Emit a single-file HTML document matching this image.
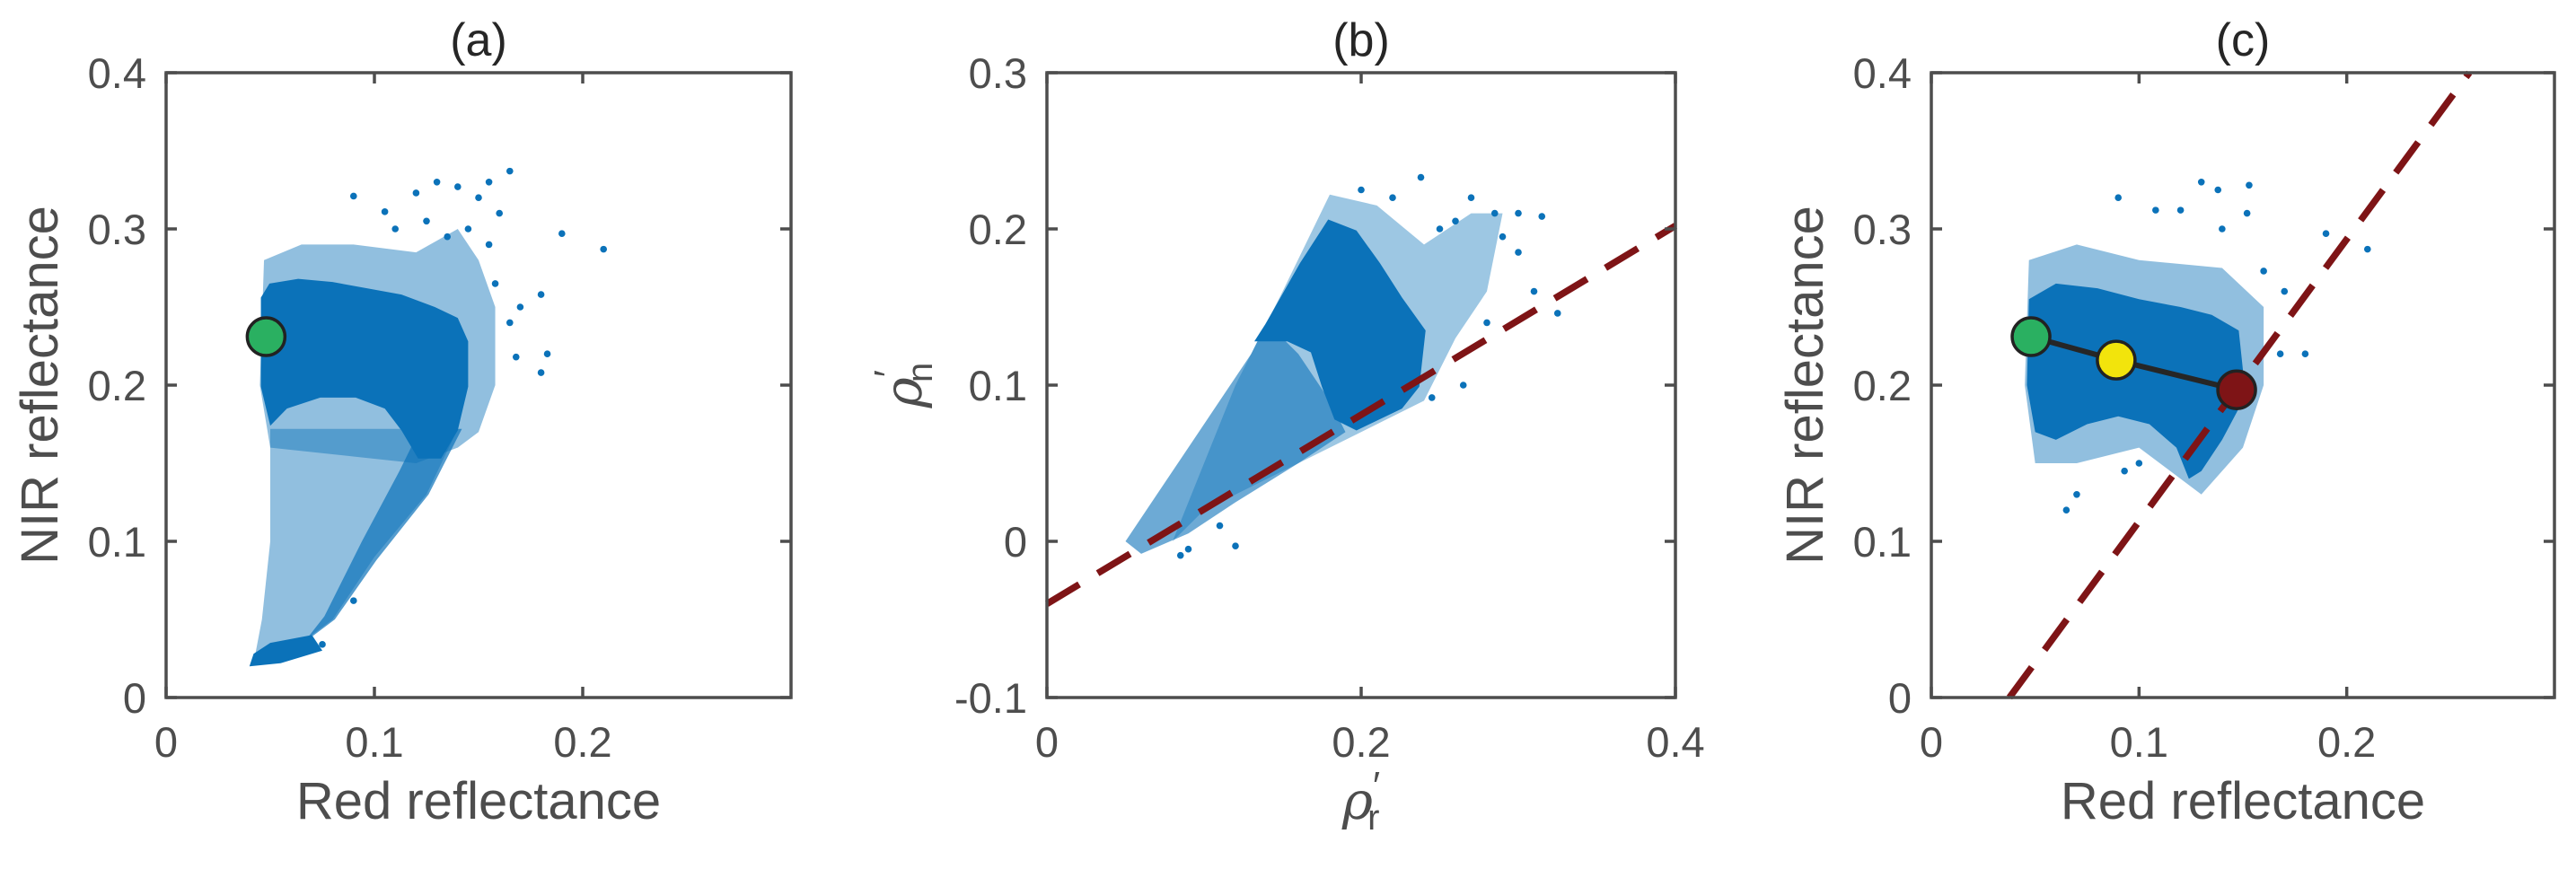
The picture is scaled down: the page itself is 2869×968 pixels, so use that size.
<!DOCTYPE html>
<html><head><meta charset="utf-8"><style>
html,body{margin:0;padding:0;background:#fff}
svg{display:block}
text{font-family:"Liberation Sans",sans-serif;fill:#4d4d4d}
</style></head><body>
<svg id="fig" width="2869" height="968" viewBox="0 0 2869 968" xmlns="http://www.w3.org/2000/svg"></svg>
<script>
// ---------- data ----------
const aXTicks=[0,0.1,0.2], aYTicks=[0,0.1,0.2,0.3,0.4];
const bXTicks=[0,0.2,0.4], bYTicks=[-0.1,0,0.1,0.2,0.3];
const aCore=[[.0455,.256],[.0496,.265],[.0634,.268],[.0799,.266],[.0964,.262],[.113,.258],[.129,.25],[.140,.243],[.145,.228],[.145,.199],[.140,.171],[.132,.153],[.121,.153],[.113,.171],[.105,.185],[.091,.192],[.074,.192],[.058,.185],[.050,.174],[.0455,.199]];
const aHalo=[[.047,.28],[.065,.29],[.09,.29],[.12,.285],[.14,.30],[.15,.28],[.158,.25],[.158,.2],[.15,.17],[.14,.16],[.12,.15],[.05,.16],[.045,.2]];
const aLower=[[.050,.172],[.140,.172],[.125,.13],[.10,.09],[.08,.05],[.06,.03],[.042,.022],[.046,.05],[.05,.1]];
const aBand=[[.142,.172],[.126,.13],[.101,.088],[.081,.05],[.066,.035],[.076,.052],[.094,.1],[.112,.145],[.122,.172]];
const aTail=[[.040,.020],[.055,.022],[.075,.030],[.070,.040],[.050,.035],[.042,.028]];
const aOut=[[.165,.337],[.155,.33],[.19,.297],[.21,.287],[.18,.258],[.17,.25],[.183,.22],[.18,.208],[.168,.218],[.165,.24],[.15,.32],[.16,.31],[.09,.321],[.105,.311],[.13,.33],[.14,.327],[.12,.323],[.145,.3],[.155,.29],[.11,.3],[.125,.305],[.135,.295],[.158,.265],[.075,.034],[.09,.062]];
const aMarkX=[0.048], aMarkY=[0.231];

const bCore=[[.139,.139],[.161,.178],[.179,.206],[.197,.199],[.212,.178],[.226,.156],[.241,.135],[.237,.099],[.226,.085],[.197,.071],[.183,.078],[.175,.099],[.168,.121],[.153,.128],[.132,.128]];
const bMid=[[.14,.14],[.13,.12],[.11,.09],[.09,.06],[.07,.03],[.05,0],[.06,-.008],[.09,.005],[.12,.025],[.16,.05],[.19,.07],[.18,.09],[.16,.12]];
const bHalo=[[.18,.222],[.21,.215],[.24,.19],[.27,.21],[.29,.21],[.28,.16],[.26,.13],[.24,.09],[.2,.07],[.15,.045],[.1,.02],[.08,.0],[.1,.05],[.12,.1],[.15,.16]];
const bOut=[[.238,.233],[.27,.22],[.285,.21],[.3,.21],[.315,.208],[.26,.205],[.31,.16],[.325,.146],[.28,.14],[.265,.1],[.245,.092],[.25,.2],[.22,.22],[.2,.225],[.11,.01],[.12,-.003],[.085,-.009],[.09,-.005],[.29,.195],[.3,.185]];
const bLineX=[0,0.4], bLineY=[-0.04,0.202];

const cCore=[[.047,.255],[.06,.265],[.08,.262],[.10,.255],[.12,.25],[.135,.245],[.148,.235],[.150,.21],[.148,.185],[.140,.165],[.130,.145],[.124,.140],[.118,.160],[.105,.175],[.09,.18],[.075,.175],[.06,.165],[.05,.17],[.046,.2]];
const cHalo=[[.047,.28],[.07,.29],[.1,.28],[.14,.275],[.16,.25],[.16,.2],[.15,.16],[.13,.13],[.1,.16],[.07,.15],[.05,.15],[.045,.2]];
const cOut=[[.09,.32],[.108,.312],[.13,.33],[.138,.325],[.153,.328],[.152,.31],[.14,.3],[.12,.312],[.16,.273],[.17,.26],[.18,.22],[.19,.297],[.21,.287],[.168,.22],[.065,.12],[.07,.13],[.093,.145],[.1,.15]];
const cLineX=[0.0376,0.259], cLineY=[0,0.4];
const cMarkX=[0.048,0.089,0.147], cMarkY=[0.231,0.216,0.197];
const cMarkColors=['#2ab061','#f2e40c','#7e1416'];

// ---------- drawing ----------
const NS='http://www.w3.org/2000/svg';
const svg=document.getElementById('fig');
function mk(tag,attrs,parent){const e=document.createElementNS(NS,tag);for(const k in attrs)e.setAttribute(k,attrs[k]);(parent||svg).appendChild(e);return e;}
const BLUE='#0b72b9', AX='#4d4d4d';

function panel(name,L,R,T,B,xmin,xmax,ymin,ymax,xt,yt,title){
  const g=mk('g',{});
  
  
  const sx=v=>L+(v-xmin)/(xmax-xmin)*(R-L);
  const sy=v=>B-(v-ymin)/(ymax-ymin)*(B-T);
  return {g,sx,sy,L,R,T,B,xt,yt,title};
}
function frame(p,xfmt,yfmt){
  const {g,sx,sy,L,R,T,B}=p;
  p.xt.forEach(v=>{const x=sx(v);
    const t1=mk('line',{x1:x,x2:x,y1:B,y2:B-12,stroke:AX,'stroke-width':3.5},g);
    
    mk('line',{x1:x,x2:x,y1:T,y2:T+12,stroke:AX,'stroke-width':3.5},g);
    const t=mk('text',{x:x,y:B+66,'text-anchor':'middle','font-size':47},g);t.textContent=xfmt(v);
    });
  p.yt.forEach(v=>{const y=sy(v);
    const t1=mk('line',{x1:L,x2:L+12,y1:y,y2:y,stroke:AX,'stroke-width':3.5},g);
    
    mk('line',{x1:R,x2:R-12,y1:y,y2:y,stroke:AX,'stroke-width':3.5},g);
    const t=mk('text',{x:L-22,y:y+17,'text-anchor':'end','font-size':47},g);t.textContent=yfmt(v);
    });
  const r=mk('rect',{x:L,y:T,width:R-L,height:B-T,fill:'none',stroke:AX,'stroke-width':3.5},g);
  
  const ti=mk('text',{x:(L+R)/2,y:62,'text-anchor':'middle','font-size':52,style:'fill:#262626'},g);ti.textContent=p.title;
  
}
function fmt(v){return v===0?'0':(Math.round(v*10)/10).toString();}
function poly(p,pts,op,name){const {g,sx,sy}=p;
  const e=mk('polygon',{points:pts.map(q=>sx(q[0])+','+sy(q[1])).join(' '),fill:BLUE,'fill-opacity':op,stroke:'none'},g);
  }
function dots(p,pts){const {g,sx,sy}=p;
  pts.forEach(q=>{const c=mk('circle',{cx:sx(q[0]),cy:sy(q[1]),r:3.8,fill:BLUE},g);
    });}
function dline(p,xs,ys){const {g,sx,sy}=p;
  const l=mk('line',{x1:sx(xs[0]),y1:sy(ys[0]),x2:sx(xs[1]),y2:sy(ys[1]),stroke:'#7e1416','stroke-width':7.5,'stroke-dasharray':'42 24'},g);
  }
function markers(p,xs,ys,cols){const {g,sx,sy}=p;
  if(xs.length>1){const pl=mk('polyline',{points:xs.map((x,i)=>sx(x)+','+sy(ys[i])).join(' '),fill:'none',stroke:'#262626','stroke-width':6},g);
    }
  xs.forEach((x,i)=>{const c=mk('circle',{cx:sx(x),cy:sy(ys[i]),r:21,fill:cols[i],stroke:'#222','stroke-width':3.5},g);
    });}

// Panel a
const pa=panel('panel-a',185,881,81,777,0,0.3,0,0.4,aXTicks,aYTicks,'(a)');
poly(pa,aHalo,0.45,'scatter-halo');poly(pa,aLower,0.45,'scatter-lower');poly(pa,aBand,0.7,'scatter-band');poly(pa,aTail,1,'scatter-tail');poly(pa,aCore,1,'scatter-core');
dots(pa,aOut);markers(pa,aMarkX,aMarkY,['#2ab061']);frame(pa,fmt,fmt);
// Panel b
const pb=panel('panel-b',1166,1866,81,777,0,0.4,-0.1,0.3,bXTicks,bYTicks,'(b)');
poly(pb,bHalo,0.4,'scatter-halo');poly(pb,bMid,0.6,'scatter-band');poly(pb,bCore,1,'scatter-core');
dots(pb,bOut);dline(pb,bLineX,bLineY);frame(pb,fmt,fmt);
// Panel c
const pc=panel('panel-c',2151,2845,81,777,0,0.3,0,0.4,aXTicks,aYTicks,'(c)');
poly(pc,cHalo,0.45,'scatter-halo');poly(pc,cCore,1,'scatter-core');
dots(pc,cOut);dline(pc,cLineX,cLineY);markers(pc,cMarkX,cMarkY,cMarkColors);frame(pc,fmt,fmt);

// axis labels
function lab(txt,x,y,rot,name,size){const t=mk('text',{x:x,y:y,'text-anchor':'middle','font-size':size||58,transform:rot?`rotate(-90 ${x} ${y})`:''});
  t.textContent=txt;return t;}
lab('Red reflectance',533,912,false,'x-axis-title-a');
lab('NIR reflectance',64,429,true,'y-axis-title-a');
lab('Red reflectance',2498,912,false,'x-axis-title-c');
lab('NIR reflectance',2030,429,true,'y-axis-title-c');
const xr=mk('text',{x:1516,y:912,'text-anchor':'middle','font-size':58});

xr.innerHTML='<tspan font-style="italic" font-family="DejaVu Serif">ρ</tspan><tspan dy="-22" font-size="44">′</tspan><tspan dy="34" dx="-14" font-size="40">r</tspan>';
const yr=mk('text',{x:1026,y:429,'text-anchor':'middle','font-size':58,transform:'rotate(-90 1026 429)'});

yr.innerHTML='<tspan font-style="italic" font-family="DejaVu Serif">ρ</tspan><tspan dy="-22" font-size="44">′</tspan><tspan dy="34" dx="-14" font-size="40">n</tspan>';
</script>
</body></html>
